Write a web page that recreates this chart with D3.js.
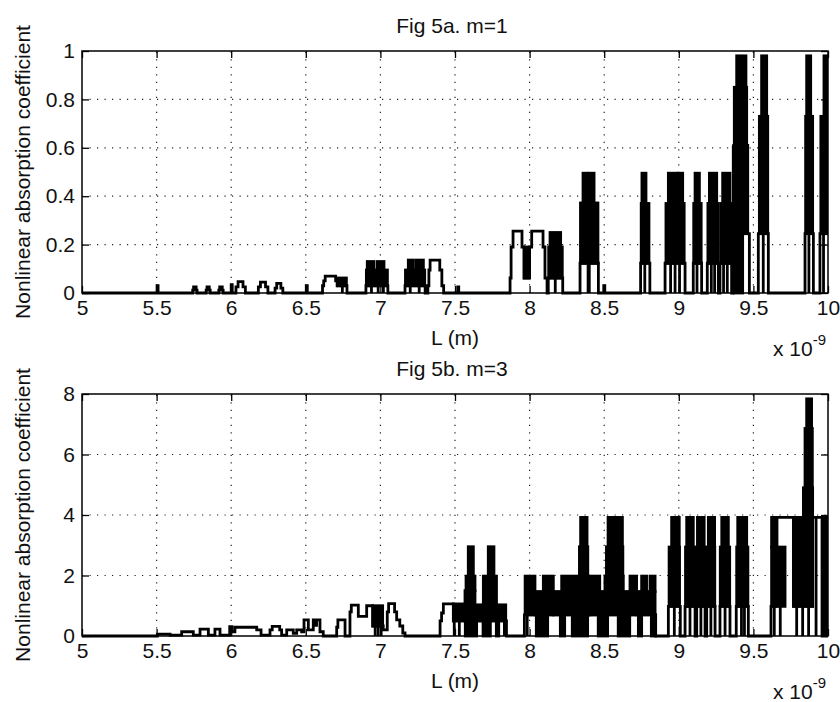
<!DOCTYPE html>
<html>
<head>
<meta charset="utf-8">
<script src="https://cdn.jsdelivr.net/npm/d3@7"></script>
<style>
  html, body { margin: 0; padding: 0; background: #fff; }
  svg { display: block; }
  text { font-family: "Liberation Sans", Arial, Helvetica, sans-serif; fill: #111; }
</style>
</head>
<body>
<svg id="chart" width="840" height="702"></svg>
<script>
// ---------------- DATA (L in units of 1e-9 m) ----------------
const xTicks = [5, 5.5, 6, 6.5, 7, 7.5, 8, 8.5, 9, 9.5, 10];
const yTicksM1 = [0, 0.2, 0.4, 0.6, 0.8, 1];
const yTicksM3 = [0, 2, 4, 6, 8];
const titles = ["Fig 5a. m=1", "Fig 5b. m=3"];
const xLabel = "L (m)";
const yLabel = "Nonlinear absorption coefficient";

// m = 1 : step curve [L, alpha] (value holds until next L)
const curveM1 = [
  [5.000, 0],
  [5.503, 0.03], [5.510, 0],
  [5.742, 0.012], [5.748, 0.025], [5.765, 0.012], [5.771, 0],
  [5.832, 0.012], [5.838, 0.025], [5.853, 0.012], [5.859, 0],
  [5.917, 0.012], [5.923, 0.025], [5.940, 0.012], [5.946, 0],
  [6.000, 0.035], [6.007, 0],
  [6.032, 0.025], [6.046, 0.047], [6.079, 0.025], [6.095, 0],
  [6.182, 0.025], [6.196, 0.045], [6.230, 0.025], [6.246, 0],
  [6.294, 0.02], [6.305, 0.04], [6.333, 0.02], [6.346, 0],
  [6.503, 0.03], [6.510, 0],
  [6.612, 0.03], [6.620, 0.05], [6.630, 0.07], [6.700, 0.05], [6.710, 0.03], [6.776, 0],
  [6.903, 0.03], [7.050, 0],
  [7.165, 0.03], [7.300, 0],
  [7.318, 0.03], [7.325, 0.095], [7.333, 0.136], [7.398, 0.095], [7.412, 0.03], [7.424, 0],
  [7.518, 0.025], [7.525, 0],
  [7.869, 0.062], [7.876, 0.19], [7.889, 0.256], [7.949, 0.19], [7.962, 0.062],
  [8.000, 0.19], [8.014, 0.256], [8.090, 0.19], [8.103, 0.062], [8.117, 0],
  [8.125, 0.062], [8.222, 0],
  [8.338, 0.123], [8.461, 0],
  [8.497, 0.03], [8.504, 0],
  [8.744, 0.123], [8.806, 0],
  [8.908, 0.123], [9.042, 0],
  [9.097, 0.123], [9.153, 0],
  [9.191, 0.123], [9.265, 0],
  [9.276, 0.123], [9.354, 0],
  [9.363, 0.245], [9.473, 0],
  [9.533, 0.245], [9.600, 0],
  [9.846, 0.245], [9.902, 0],
  [9.946, 0.245], [10.0, 0.245]
];
// m = 1 : densely oscillating parts [L0, L1, alphaLow, alphaHigh]
const blocksM1 = [
  [6.716, 6.772, 0.03, 0.062],
  [6.906, 7.047, 0.03, 0.095], [6.912, 6.955, 0.095, 0.13], [6.977, 7.024, 0.095, 0.13],
  [7.168, 7.297, 0.03, 0.095], [7.187, 7.221, 0.095, 0.136], [7.239, 7.288, 0.095, 0.136],
  [7.966, 7.992, 0.062, 0.19],
  [8.128, 8.219, 0.062, 0.19], [8.137, 8.208, 0.19, 0.25],
  [8.341, 8.458, 0.123, 0.372], [8.358, 8.387, 0.372, 0.495], [8.398, 8.432, 0.372, 0.495],
  [8.748, 8.800, 0.123, 0.37], [8.753, 8.780, 0.37, 0.495],
  [8.914, 9.036, 0.123, 0.37], [8.930, 8.985, 0.37, 0.495], [8.996, 9.026, 0.37, 0.495],
  [9.100, 9.150, 0.123, 0.37], [9.109, 9.138, 0.37, 0.495],
  [9.195, 9.262, 0.123, 0.37], [9.205, 9.254, 0.37, 0.495],
  [9.280, 9.352, 0.123, 0.37], [9.294, 9.343, 0.37, 0.495],
  [9.370, 9.428, 0, 0.245], [9.368, 9.462, 0.245, 0.61], [9.372, 9.455, 0.61, 0.85], [9.388, 9.450, 0.85, 0.98],
  [9.540, 9.596, 0.245, 0.73], [9.555, 9.589, 0.73, 0.98],
  [9.850, 9.897, 0.245, 0.73], [9.857, 9.884, 0.73, 0.98],
  [9.952, 10.0, 0.245, 0.73], [9.973, 10.0, 0.73, 0.98]
];
// m = 1 : single drops to zero inside the dense parts [L, alphaTop]
const edgesM1 = [
  [6.745, 0.03],
  [6.940, 0.03], [6.985, 0.03], [7.020, 0.03],
  [7.200, 0.03], [7.260, 0.03],
  [8.172, 0.062],
  [8.392, 0.123], [8.400, 0.123],
  [8.772, 0.123],
  [8.945, 0.123], [8.975, 0.123], [9.005, 0.123],
  [9.122, 0.123],
  [9.218, 0.123], [9.240, 0.123],
  [9.300, 0.123], [9.325, 0.123],
  [9.365, 0.61],
  [9.566, 0.245],
  [9.872, 0.245],
  [9.970, 0.245]
];

// m = 3 : step curve [L, alpha]
const curveM3 = [
  [5.000, 0],
  [5.505, 0.06], [5.590, 0.03], [5.668, 0.14], [5.746, 0.03],
  [5.791, 0.23], [5.847, 0.03], [5.891, 0.23], [5.925, 0.03],
  [5.990, 0.31], [6.005, 0.14], [6.025, 0.29], [6.171, 0.2], [6.200, 0.03],
  [6.260, 0.2], [6.275, 0.32], [6.325, 0.2], [6.338, 0.03],
  [6.372, 0.2], [6.416, 0.09], [6.439, 0.2], [6.472, 0.14],
  [6.488, 0.53], [6.517, 0.2], [6.550, 0.53], [6.565, 0.35], [6.572, 0.53], [6.595, 0.14], [6.617, 0],
  [6.707, 0.29], [6.715, 0.53], [6.763, 0],
  [6.796, 0.8], [6.805, 1.02], [6.852, 0.65], [6.908, 1.0], [6.948, 0.33], [7.019, 0.2],
  [7.046, 0.8], [7.055, 1.07], [7.095, 0.8], [7.109, 0.53], [7.130, 0.33], [7.150, 0.1], [7.165, 0],
  [7.400, 0.5], [7.410, 0.76], [7.422, 1.06], [7.489, 0.5], [7.845, 0],
  [7.965, 0.7], [8.845, 0],
  [8.930, 0.98], [9.010, 0],
  [9.042, 0.98], [9.109, 0],
  [9.120, 0.98], [9.176, 0],
  [9.187, 0.98], [9.243, 0],
  [9.276, 0.98], [9.343, 0],
  [9.385, 0.98], [9.466, 0],
  [9.618, 0.98], [9.657, 3.92], [9.768, 0.98], [9.897, 3.92], [10.0, 3.92]
];
// m = 3 : densely oscillating parts [L0, L1, alphaLow, alphaHigh]
const blocksM3 = [
  [6.950, 7.015, 0.33, 1.0],
  [7.489, 7.567, 0.5, 1.06],
  [7.567, 7.634, 0.5, 1.5], [7.574, 7.634, 1.5, 1.98], [7.589, 7.623, 1.98, 2.95],
  [7.634, 7.690, 0.5, 1.03],
  [7.690, 7.778, 0.5, 1.98], [7.723, 7.761, 1.98, 2.95],
  [7.778, 7.840, 0.5, 1.03],
  [7.569, 7.645, 0, 0.5], [7.688, 7.737, 0, 0.5], [7.777, 7.793, 0, 0.5],
  [7.970, 8.036, 0.7, 1.98],
  [8.036, 8.092, 0.7, 1.47],
  [8.092, 8.159, 0.7, 1.98],
  [8.159, 8.215, 0.7, 1.47],
  [8.215, 8.393, 0.7, 1.98], [8.334, 8.390, 1.98, 2.95], [8.342, 8.385, 2.95, 3.92],
  [8.393, 8.405, 0.7, 1.47],
  [8.405, 8.470, 0.7, 1.98],
  [8.470, 8.505, 0.7, 1.47],
  [8.505, 8.628, 0.7, 1.98], [8.515, 8.625, 1.98, 2.95], [8.526, 8.561, 2.95, 3.92], [8.572, 8.622, 2.95, 3.92],
  [8.628, 8.673, 0.7, 1.47],
  [8.673, 8.717, 0.7, 1.98],
  [8.717, 8.751, 0.7, 1.47],
  [8.751, 8.841, 0.7, 1.47], [8.751, 8.784, 1.47, 1.98], [8.807, 8.841, 1.47, 1.98],
  [8.045, 8.121, 0, 0.7], [8.206, 8.235, 0, 0.7], [8.286, 8.389, 0, 0.7], [8.460, 8.523, 0, 0.7],
  [8.594, 8.671, 0, 0.7], [8.729, 8.751, 0, 0.7], [8.816, 8.844, 0, 0.7],
  [8.935, 9.005, 0.98, 2.94], [8.952, 9.003, 2.94, 3.92],
  [9.045, 9.106, 0.98, 2.94], [9.053, 9.097, 2.94, 3.92],
  [9.122, 9.174, 0.98, 2.94], [9.125, 9.170, 2.94, 3.92],
  [9.189, 9.241, 0.98, 2.94], [9.198, 9.240, 2.94, 3.92],
  [9.278, 9.341, 0.98, 2.94], [9.288, 9.332, 2.94, 3.92],
  [9.388, 9.463, 0.98, 2.94], [9.395, 9.455, 2.94, 3.92],
  [9.622, 9.712, 0.98, 2.94], [9.622, 9.657, 2.94, 3.92],
  [9.770, 9.897, 0.98, 3.92], [9.835, 9.897, 3.92, 4.9], [9.846, 9.895, 4.9, 6.86], [9.857, 9.890, 6.86, 7.84],
  [9.960, 10.0, 0, 3.92]
];
// m = 3 : single drops to zero inside the dense parts [L, alphaTop]
const edgesM3 = [
  [6.965, 0.33], [6.985, 0.33], [7.005, 0.33],
  [7.495, 0.5], [7.529, 0.5], [7.831, 0.5],
  [7.984, 0.7],
  [8.970, 0.98], [9.075, 0.98], [9.148, 0.98], [9.215, 0.98], [9.310, 0.98],
  [9.420, 0.98], [9.440, 0.98],
  [9.640, 0.98], [9.680, 0.98],
  [9.790, 0.98], [9.830, 0.98], [9.870, 0.98],
  [9.920, 3.92]
];

// ---------------- LAYOUT ----------------
const FONT = 21;
const LW = 2.8;
const panels = [
  { curve: curveM1, blocks: blocksM1, edges: edgesM1, yMax: 1, yTicks: yTicksM1, title: titles[0], top: 51, bottom: 293 },
  { curve: curveM3, blocks: blocksM3, edges: edgesM3, yMax: 8, yTicks: yTicksM3, title: titles[1], top: 394, bottom: 636 }
];
const left = 82, right = 828;

const svg = d3.select("#chart");

panels.forEach((p, i) => {
  const x = d3.scaleLinear().domain([5, 10]).range([left, right]);
  const y = d3.scaleLinear().domain([0, p.yMax]).range([p.bottom, p.top]);
  const g = svg.append("g");

  // grid (dotted)
  const grid = g.append("g").attr("stroke", "#222").attr("stroke-width", 1.2)
    .attr("stroke-dasharray", "1.2,6.3").attr("fill", "none");
  xTicks.slice(1, -1).forEach(t => {
    grid.append("line").attr("x1", x(t)).attr("x2", x(t)).attr("y1", p.bottom).attr("y2", p.top);
  });
  p.yTicks.slice(1, -1).forEach(t => {
    grid.append("line").attr("x1", left).attr("x2", right).attr("y1", y(t)).attr("y2", y(t));
  });

  // data
  const clipId = "clip" + i;
  svg.append("clipPath").attr("id", clipId).append("rect")
    .attr("x", left).attr("y", p.top).attr("width", right - left).attr("height", p.bottom - p.top + 3);
  const dg = g.append("g").attr("clip-path", `url(#${clipId})`);

  dg.selectAll("rect.blk").data(p.blocks).join("rect").attr("class", "blk")
    .attr("x", d => x(d[0])).attr("width", d => x(d[1]) - x(d[0]))
    .attr("y", d => y(d[3])).attr("height", d => y(d[2]) - y(d[3]))
    .attr("fill", "#000").attr("stroke", "#000").attr("stroke-width", LW);

  dg.selectAll("line.edge").data(p.edges).join("line").attr("class", "edge")
    .attr("x1", d => x(d[0])).attr("x2", d => x(d[0]))
    .attr("y1", y(0)).attr("y2", d => y(d[1]))
    .attr("stroke", "#000").attr("stroke-width", LW);

  const line = d3.line().x(d => x(d[0])).y(d => y(d[1])).curve(d3.curveStepAfter);
  dg.append("path").datum(p.curve).attr("d", line)
    .attr("fill", "none").attr("stroke", "#000").attr("stroke-width", LW)
    .attr("stroke-linejoin", "miter");

  // axes (ticks inside, box)
  const fmt = d => String(d);
  const axB = g.append("g").attr("transform", `translate(0,${p.bottom})`)
    .call(d3.axisBottom(x).tickValues(xTicks).tickSize(-7).tickPadding(7).tickFormat(fmt));
  const axT = g.append("g").attr("transform", `translate(0,${p.top})`)
    .call(d3.axisTop(x).tickValues(xTicks).tickSize(-7).tickFormat(""));
  const axL = g.append("g").attr("transform", `translate(${left},0)`)
    .call(d3.axisLeft(y).tickValues(p.yTicks).tickSize(-7).tickPadding(7).tickFormat(fmt));
  const axR = g.append("g").attr("transform", `translate(${right},0)`)
    .call(d3.axisRight(y).tickValues(p.yTicks).tickSize(-7).tickFormat(""));
  [axB, axT, axL, axR].forEach(a => {
    a.select(".domain").remove();
    a.selectAll(".tick line").attr("stroke", "#000").attr("stroke-width", 1.3);
    a.selectAll("text").attr("font-size", FONT).attr("font-family", null).attr("fill", "#111");
  });

  // frame
  g.append("rect").attr("x", left).attr("y", p.top).attr("width", right - left).attr("height", p.bottom - p.top)
    .attr("fill", "none").attr("stroke", "#000").attr("stroke-width", 1.5);

  // labels
  g.append("text").attr("x", 452).attr("y", p.top - 18).attr("text-anchor", "middle")
    .attr("font-size", FONT).text(p.title);
  g.append("text").attr("x", 455).attr("y", p.bottom + 52).attr("text-anchor", "middle")
    .attr("font-size", FONT).text(xLabel);
  const ex = g.append("text").attr("x", 826).attr("y", p.bottom + 63).attr("text-anchor", "end")
    .attr("font-size", FONT).text("x 10");
  ex.append("tspan").attr("dy", -11).attr("font-size", 15).text("-9");
  g.append("text").attr("transform", `translate(30,${(p.top + p.bottom) / 2}) rotate(-90)`)
    .attr("text-anchor", "middle").attr("font-size", FONT).text(yLabel);
});
</script>
</body>
</html>
